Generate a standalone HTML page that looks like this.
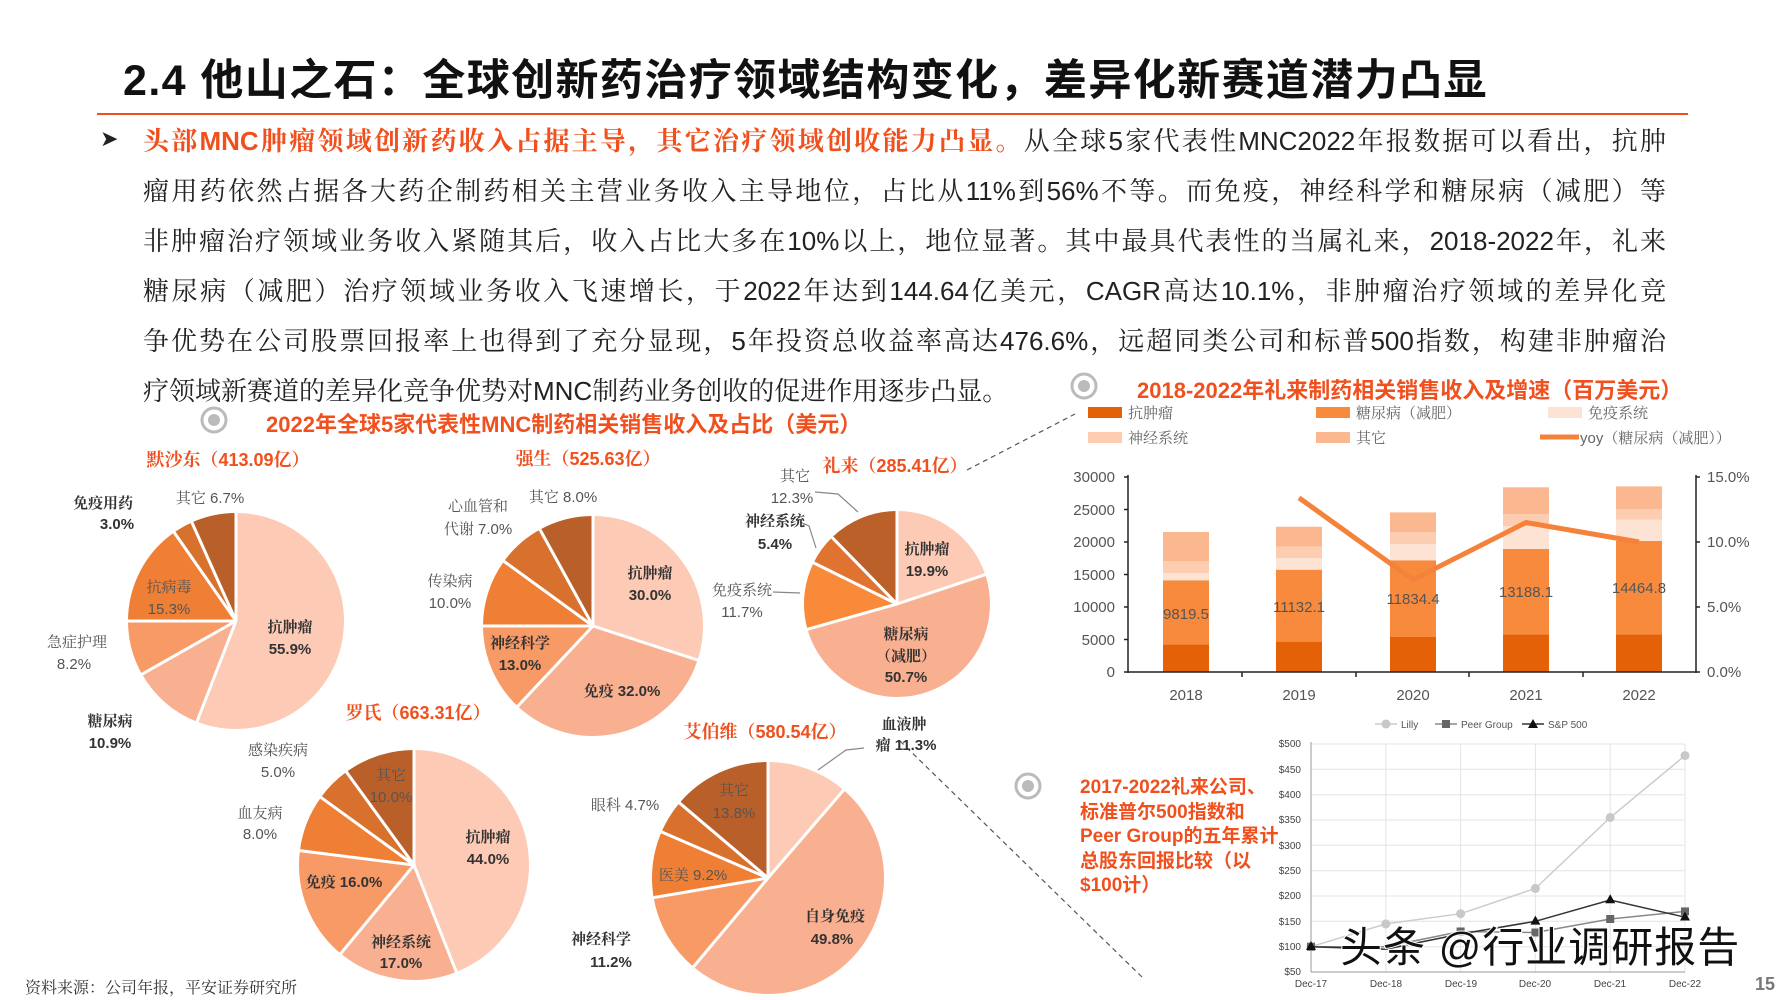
<!DOCTYPE html>
<html><head><meta charset="utf-8"><style>
body{margin:0;width:1778px;height:1000px;background:#fff;position:relative;overflow:hidden;font-family:"Liberation Sans","Noto Sans CJK SC",sans-serif}
.t{position:absolute;left:123px;top:46px;font-size:43px;font-weight:bold;letter-spacing:1.4px;color:#111;white-space:nowrap}
.ln{position:absolute;left:143px;width:1523px;font-size:26px;font-family:"Liberation Sans","Noto Serif CJK SC",serif;color:#222;text-align:justify;text-align-last:justify;white-space:nowrap;line-height:30px}
.o{color:#F0501E;font-weight:bold}
svg{position:absolute;left:0;top:0}
</style></head><body>
<div class="t">2.4 他山之石：全球创新药治疗领域结构变化，差异化新赛道潜力凸显</div>
<div style="position:absolute;left:97px;top:113px;width:1591px;height:2px;background:#F0501E"></div>
<div style="position:absolute;left:100px;top:126px;font-size:22px;color:#222">➤</div>
<div class="ln" style="top:126px"><span class="o">头部MNC肿瘤领域创新药收入占据主导，其它治疗领域创收能力凸显。</span>从全球5家代表性MNC2022年报数据可以看出，抗肿</div>
<div class="ln" style="top:176px">瘤用药依然占据各大药企制药相关主营业务收入主导地位，占比从11%到56%不等。而免疫，神经科学和糖尿病（减肥）等</div>
<div class="ln" style="top:226px">非肿瘤治疗领域业务收入紧随其后，收入占比大多在10%以上，地位显著。其中最具代表性的当属礼来，2018-2022年，礼来</div>
<div class="ln" style="top:276px">糖尿病（减肥）治疗领域业务收入飞速增长，于2022年达到144.64亿美元，CAGR高达10.1%，非肿瘤治疗领域的差异化竞</div>
<div class="ln" style="top:326px">争优势在公司股票回报率上也得到了充分显现，5年投资总收益率高达476.6%，远超同类公司和标普500指数，构建非肿瘤治</div>
<div class="ln" style="top:376px;text-align-last:left;width:auto">疗领域新赛道的差异化竞争优势对MNC制药业务创收的促进作用逐步凸显。</div>

<svg width="1778" height="1000" font-family="Liberation Sans, Noto Serif CJK SC, serif">
<defs>
<g id="ic"><circle r="12" fill="none" stroke="#bbb" stroke-width="3"/><circle r="6" fill="#bbb"/></g>
</defs>
<use href="#ic" x="214" y="420"/><use href="#ic" x="1084" y="386"/><use href="#ic" x="1028" y="786"/>
<g font-family="Liberation Sans, Noto Sans CJK SC, sans-serif" font-weight="bold" fill="#F0501E" font-size="22">
<text x="266" y="432">2022年全球5家代表性MNC制药相关销售收入及占比（美元）</text>
<text x="1137" y="398">2018-2022年礼来制药相关销售收入及增速（百万美元）</text>
</g>
<g stroke="#555" stroke-dasharray="5,4" stroke-width="1.2" fill="none">
<line x1="967" y1="470" x2="1075" y2="414"/><line x1="900" y1="741" x2="1143" y2="978"/>
</g>

<g fill="none">
<g transform="translate(236,621) rotate(-90)">
<circle r="54" stroke-width="108" pathLength="100" stroke="#FCCAB5" stroke-dasharray="55.9 100"/>
<circle r="54" stroke-width="108" pathLength="100" stroke="#F9B090" stroke-dasharray="10.9 100" stroke-dashoffset="-55.9"/>
<circle r="54" stroke-width="108" pathLength="100" stroke="#F89A66" stroke-dasharray="8.2 100" stroke-dashoffset="-66.8"/>
<circle r="54" stroke-width="108" pathLength="100" stroke="#EE7F35" stroke-dasharray="15.3 100" stroke-dashoffset="-75"/>
<circle r="54" stroke-width="108" pathLength="100" stroke="#D8702E" stroke-dasharray="3 100" stroke-dashoffset="-90.3"/>
<circle r="54" stroke-width="108" pathLength="100" stroke="#B9602A" stroke-dasharray="6.7 100" stroke-dashoffset="-93.3"/>
</g>
<g transform="translate(236,621)" stroke="#fff" stroke-width="3">
<line y2="-109"/><line y2="-109" transform="rotate(201.2)"/><line y2="-109" transform="rotate(240.5)"/><line y2="-109" transform="rotate(270)"/><line y2="-109" transform="rotate(325.1)"/><line y2="-109" transform="rotate(335.9)"/>
</g>
<g transform="translate(593,626) rotate(-90)">
<circle r="55" stroke-width="110" pathLength="100" stroke="#FCCAB5" stroke-dasharray="30 100"/>
<circle r="55" stroke-width="110" pathLength="100" stroke="#F9B090" stroke-dasharray="32 100" stroke-dashoffset="-30"/>
<circle r="55" stroke-width="110" pathLength="100" stroke="#F89A66" stroke-dasharray="13 100" stroke-dashoffset="-62"/>
<circle r="55" stroke-width="110" pathLength="100" stroke="#EE7F35" stroke-dasharray="10 100" stroke-dashoffset="-75"/>
<circle r="55" stroke-width="110" pathLength="100" stroke="#D8702E" stroke-dasharray="7 100" stroke-dashoffset="-85"/>
<circle r="55" stroke-width="110" pathLength="100" stroke="#B9602A" stroke-dasharray="8 100" stroke-dashoffset="-92"/>
</g>
<g transform="translate(593,626)" stroke="#fff" stroke-width="3">
<line y2="-111"/><line y2="-111" transform="rotate(108)"/><line y2="-111" transform="rotate(223.2)"/><line y2="-111" transform="rotate(270)"/><line y2="-111" transform="rotate(306)"/><line y2="-111" transform="rotate(331.2)"/>
</g>
<g transform="translate(897,604) rotate(-90)">
<circle r="46.5" stroke-width="93" pathLength="100" stroke="#FCCAB5" stroke-dasharray="19.9 100"/>
<circle r="46.5" stroke-width="93" pathLength="100" stroke="#F9B090" stroke-dasharray="50.7 100" stroke-dashoffset="-19.9"/>
<circle r="46.5" stroke-width="93" pathLength="100" stroke="#F98A3A" stroke-dasharray="11.7 100" stroke-dashoffset="-70.6"/>
<circle r="46.5" stroke-width="93" pathLength="100" stroke="#E07330" stroke-dasharray="5.4 100" stroke-dashoffset="-82.3"/>
<circle r="46.5" stroke-width="93" pathLength="100" stroke="#BA6028" stroke-dasharray="12.3 100" stroke-dashoffset="-87.7"/>
</g>
<g transform="translate(897,604)" stroke="#fff" stroke-width="3">
<line y2="-94"/><line y2="-94" transform="rotate(71.6)"/><line y2="-94" transform="rotate(254.2)"/><line y2="-94" transform="rotate(296.3)"/><line y2="-94" transform="rotate(315.7)"/>
</g>
<g transform="translate(414,865) rotate(-90)">
<circle r="57.5" stroke-width="115" pathLength="100" stroke="#FCCAB5" stroke-dasharray="44 100"/>
<circle r="57.5" stroke-width="115" pathLength="100" stroke="#F9B090" stroke-dasharray="17 100" stroke-dashoffset="-44"/>
<circle r="57.5" stroke-width="115" pathLength="100" stroke="#F89A66" stroke-dasharray="16 100" stroke-dashoffset="-61"/>
<circle r="57.5" stroke-width="115" pathLength="100" stroke="#EE7F35" stroke-dasharray="8 100" stroke-dashoffset="-77"/>
<circle r="57.5" stroke-width="115" pathLength="100" stroke="#D8702E" stroke-dasharray="5 100" stroke-dashoffset="-85"/>
<circle r="57.5" stroke-width="115" pathLength="100" stroke="#B9602A" stroke-dasharray="10 100" stroke-dashoffset="-90"/>
</g>
<g transform="translate(414,865)" stroke="#fff" stroke-width="3">
<line y2="-116"/><line y2="-116" transform="rotate(158.4)"/><line y2="-116" transform="rotate(219.6)"/><line y2="-116" transform="rotate(277.2)"/><line y2="-116" transform="rotate(306)"/><line y2="-116" transform="rotate(324)"/>
</g>
<g transform="translate(768,878) rotate(-90)">
<circle r="58" stroke-width="116" pathLength="100" stroke="#FCCAB5" stroke-dasharray="11.3 100"/>
<circle r="58" stroke-width="116" pathLength="100" stroke="#F9B090" stroke-dasharray="49.8 100" stroke-dashoffset="-11.3"/>
<circle r="58" stroke-width="116" pathLength="100" stroke="#F89A66" stroke-dasharray="11.2 100" stroke-dashoffset="-61.1"/>
<circle r="58" stroke-width="116" pathLength="100" stroke="#EE7F35" stroke-dasharray="9.2 100" stroke-dashoffset="-72.3"/>
<circle r="58" stroke-width="116" pathLength="100" stroke="#D8702E" stroke-dasharray="4.7 100" stroke-dashoffset="-81.5"/>
<circle r="58" stroke-width="116" pathLength="100" stroke="#B9602A" stroke-dasharray="13.8 100" stroke-dashoffset="-86.2"/>
</g>
<g transform="translate(768,878)" stroke="#fff" stroke-width="3">
<line y2="-117"/><line y2="-117" transform="rotate(40.7)"/><line y2="-117" transform="rotate(220)"/><line y2="-117" transform="rotate(260.3)"/><line y2="-117" transform="rotate(293.4)"/><line y2="-117" transform="rotate(310.3)"/>
</g>
</g>
<g stroke="#888" stroke-width="1.2" fill="none">
<polyline points="815,492 838,494 858,512"/><polyline points="800,522 809,526 816,548"/><polyline points="773,592 800,593"/>
<polyline points="864,748 846,750 818,770"/>
</g>
<g fill="#F0501E" font-size="18" font-weight="bold" text-anchor="middle">
<text x="228" y="466">默沙东（413.09亿）</text><text x="588" y="465">强生（525.63亿）</text>
<text x="895" y="472">礼来（285.41亿）</text><text x="418" y="719">罗氏（663.31亿）</text><text x="765" y="738">艾伯维（580.54亿）</text>
</g>
<g font-size="15" fill="#555" text-anchor="middle">
<text x="210" y="503">其它 6.7%</text>
<text x="103" y="508" font-weight="bold" fill="#333">免疫用药</text><text x="117" y="529" font-weight="bold" fill="#333">3.0%</text>
<text x="169" y="592">抗病毒</text><text x="169" y="614">15.3%</text>
<text x="77" y="647">急症护理</text><text x="74" y="669">8.2%</text>
<text x="110" y="726" font-weight="bold" fill="#333">糖尿病</text><text x="110" y="748" font-weight="bold" fill="#333">10.9%</text>
<text x="290" y="632" font-weight="bold" fill="#333">抗肿瘤</text><text x="290" y="654" font-weight="bold" fill="#333">55.9%</text>
<text x="563" y="502">其它 8.0%</text>
<text x="478" y="511">心血管和</text><text x="478" y="534">代谢 7.0%</text>
<text x="450" y="586">传染病</text><text x="450" y="608">10.0%</text>
<text x="650" y="578" font-weight="bold" fill="#333">抗肿瘤</text><text x="650" y="600" font-weight="bold" fill="#333">30.0%</text>
<text x="520" y="648" font-weight="bold" fill="#333">神经科学</text><text x="520" y="670" font-weight="bold" fill="#333">13.0%</text>
<text x="622" y="696" font-weight="bold" fill="#333">免疫 32.0%</text>
<text x="795" y="481">其它</text><text x="792" y="503">12.3%</text>
<text x="775" y="526" font-weight="bold" fill="#333">神经系统</text><text x="775" y="549" font-weight="bold" fill="#333">5.4%</text>
<text x="742" y="595">免疫系统</text><text x="742" y="617">11.7%</text>
<text x="927" y="554" font-weight="bold" fill="#333">抗肿瘤</text><text x="927" y="576" font-weight="bold" fill="#333">19.9%</text>
<text x="906" y="639" font-weight="bold" fill="#333">糖尿病</text><text x="906" y="661" font-weight="bold" fill="#333">（减肥）</text><text x="906" y="682" font-weight="bold" fill="#333">50.7%</text>
<text x="278" y="755">感染疾病</text><text x="278" y="777">5.0%</text>
<text x="391" y="780">其它</text><text x="391" y="802">10.0%</text>
<text x="260" y="818">血友病</text><text x="260" y="839">8.0%</text>
<text x="344" y="887" font-weight="bold" fill="#333">免疫 16.0%</text>
<text x="488" y="842" font-weight="bold" fill="#333">抗肿瘤</text><text x="488" y="864" font-weight="bold" fill="#333">44.0%</text>
<text x="401" y="947" font-weight="bold" fill="#333">神经系统</text><text x="401" y="968" font-weight="bold" fill="#333">17.0%</text>
<text x="904" y="729" font-weight="bold" fill="#333">血液肿</text><text x="906" y="750" font-weight="bold" fill="#333">瘤 11.3%</text>
<text x="625" y="810">眼科 4.7%</text>
<text x="734" y="795">其它</text><text x="734" y="818">13.8%</text>
<text x="693" y="880">医美 9.2%</text>
<text x="601" y="944" font-weight="bold" fill="#333">神经科学</text><text x="611" y="967" font-weight="bold" fill="#333">11.2%</text>
<text x="835" y="921" font-weight="bold" fill="#333">自身免疫</text><text x="832" y="944" font-weight="bold" fill="#333">49.8%</text>
</g>
<text x="25" y="993" font-size="16" fill="#333">资料来源：公司年报，平安证券研究所</text>

<g transform="translate(-6,-3)">
<g font-size="15" fill="#666">
<rect x="1094" y="410" width="34" height="11" fill="#E46108"/><text x="1134" y="421">抗肿瘤</text>
<rect x="1322" y="410" width="34" height="11" fill="#F78A3C"/><text x="1362" y="421">糖尿病（减肥）</text>
<rect x="1554" y="410" width="34" height="11" fill="#FDE3D3"/><text x="1594" y="421">免疫系统</text>
<rect x="1094" y="435" width="34" height="11" fill="#FCCDB0"/><text x="1134" y="446">神经系统</text>
<rect x="1322" y="435" width="34" height="11" fill="#FBB890"/><text x="1362" y="446">其它</text>
<line x1="1546" y1="440" x2="1585" y2="440" stroke="#F5823A" stroke-width="5"/><text x="1586" y="446">yoy（糖尿病（减肥））</text>
</g>
<g>
<rect x="1169" y="647.3" width="46" height="27.7" fill="#E46108"/><rect x="1169" y="583.3" width="46" height="64" fill="#F78A3C"/><rect x="1169" y="576" width="46" height="7.3" fill="#FDE3D3"/><rect x="1169" y="564.3" width="46" height="11.7" fill="#FCCDB0"/><rect x="1169" y="535" width="46" height="29.3" fill="#FBB890"/>
<rect x="1282" y="644.6" width="46" height="30.4" fill="#E46108"/><rect x="1282" y="572.7" width="46" height="71.9" fill="#F78A3C"/><rect x="1282" y="561.3" width="46" height="11.4" fill="#FDE3D3"/><rect x="1282" y="549.7" width="46" height="11.6" fill="#FCCDB0"/><rect x="1282" y="529.7" width="46" height="20" fill="#FBB890"/>
<rect x="1396" y="640" width="46" height="35" fill="#E46108"/><rect x="1396" y="563.3" width="46" height="76.7" fill="#F78A3C"/><rect x="1396" y="547.3" width="46" height="16" fill="#FDE3D3"/><rect x="1396" y="535" width="46" height="12.3" fill="#FCCDB0"/><rect x="1396" y="515.4" width="46" height="19.6" fill="#FBB890"/>
<rect x="1509" y="637.3" width="46" height="37.7" fill="#E46108"/><rect x="1509" y="552" width="46" height="85.3" fill="#F78A3C"/><rect x="1509" y="529.3" width="46" height="22.7" fill="#FDE3D3"/><rect x="1509" y="517.3" width="46" height="12" fill="#FCCDB0"/><rect x="1509" y="490.3" width="46" height="27" fill="#FBB890"/>
<rect x="1622" y="637.3" width="46" height="37.7" fill="#E46108"/><rect x="1622" y="544" width="46" height="93.3" fill="#F78A3C"/><rect x="1622" y="522.6" width="46" height="21.4" fill="#FDE3D3"/><rect x="1622" y="512" width="46" height="10.6" fill="#FCCDB0"/><rect x="1622" y="489.4" width="46" height="22.6" fill="#FBB890"/>
</g>
<g font-size="15" fill="#555" text-anchor="middle">
<text x="1192" y="622">9819.5</text><text x="1305" y="615">11132.1</text><text x="1419" y="607">11834.4</text><text x="1532" y="600">13188.1</text><text x="1645" y="596">14464.8</text>
</g>
<polyline points="1305,500.8 1419,582.7 1532,525.5 1645,545" fill="none" stroke="#F5823A" stroke-width="5"/>
<g stroke="#222" stroke-width="1.5">
<line x1="1134" y1="478" x2="1134" y2="676"/><line x1="1702" y1="478" x2="1702" y2="676"/><line x1="1130" y1="675" x2="1706" y2="675"/>
<line x1="1130" y1="480" x2="1134" y2="480"/><line x1="1130" y1="512.5" x2="1134" y2="512.5"/><line x1="1130" y1="545" x2="1134" y2="545"/><line x1="1130" y1="577.5" x2="1134" y2="577.5"/><line x1="1130" y1="610" x2="1134" y2="610"/><line x1="1130" y1="642.5" x2="1134" y2="642.5"/>
<line x1="1702" y1="480" x2="1706" y2="480"/><line x1="1702" y1="545" x2="1706" y2="545"/><line x1="1702" y1="610" x2="1706" y2="610"/>
<line x1="1248" y1="675" x2="1248" y2="680"/><line x1="1362" y1="675" x2="1362" y2="680"/><line x1="1475" y1="675" x2="1475" y2="680"/><line x1="1589" y1="675" x2="1589" y2="680"/>
</g>
<g font-size="15" fill="#555" text-anchor="end">
<text x="1121" y="485">30000</text><text x="1121" y="518">25000</text><text x="1121" y="550">20000</text><text x="1121" y="583">15000</text><text x="1121" y="615">10000</text><text x="1121" y="648">5000</text><text x="1121" y="680">0</text>
</g>
<g font-size="15" fill="#555">
<text x="1713" y="485">15.0%</text><text x="1713" y="550">10.0%</text><text x="1713" y="615">5.0%</text><text x="1713" y="680">0.0%</text>
</g>
<g font-size="15" fill="#555" text-anchor="middle">
<text x="1192" y="703">2018</text><text x="1305" y="703">2019</text><text x="1419" y="703">2020</text><text x="1532" y="703">2021</text><text x="1645" y="703">2022</text>
</g>
</g>

<g fill="#F0501E" font-size="19" font-weight="bold" font-family="Liberation Sans, Noto Sans CJK SC, sans-serif">
<text x="1080" y="793">2017-2022礼来公司、</text><text x="1080" y="818">标准普尔500指数和</text><text x="1080" y="842">Peer Group的五年累计</text><text x="1080" y="867">总股东回报比较（以</text><text x="1080" y="891">$100计）</text>
</g>
<g transform="translate(-8,-3)">
<g stroke="#e4e4e4" stroke-width="1">
<line x1="1319" y1="747" x2="1693" y2="747"/><line x1="1319" y1="772.3" x2="1693" y2="772.3"/><line x1="1319" y1="797.7" x2="1693" y2="797.7"/><line x1="1319" y1="823" x2="1693" y2="823"/><line x1="1319" y1="848.3" x2="1693" y2="848.3"/><line x1="1319" y1="873.7" x2="1693" y2="873.7"/><line x1="1319" y1="899" x2="1693" y2="899"/><line x1="1319" y1="924.3" x2="1693" y2="924.3"/><line x1="1319" y1="949.7" x2="1693" y2="949.7"/>
<line x1="1393.8" y1="747" x2="1393.8" y2="975"/><line x1="1468.6" y1="747" x2="1468.6" y2="975"/><line x1="1543.4" y1="747" x2="1543.4" y2="975"/><line x1="1618.2" y1="747" x2="1618.2" y2="975"/><line x1="1693" y1="747" x2="1693" y2="975"/>
</g>
<line x1="1319" y1="745" x2="1319" y2="975" stroke="#999"/><line x1="1319" y1="975" x2="1693" y2="975" stroke="#999"/>
<g font-size="10" fill="#444" text-anchor="end">
<text x="1309" y="750">$500</text><text x="1309" y="776">$450</text><text x="1309" y="801">$400</text><text x="1309" y="826">$350</text><text x="1309" y="852">$300</text><text x="1309" y="877">$250</text><text x="1309" y="902">$200</text><text x="1309" y="928">$150</text><text x="1309" y="953">$100</text><text x="1309" y="978">$50</text>
</g>
<g font-size="10" fill="#444" text-anchor="middle">
<text x="1319" y="990">Dec-17</text><text x="1394" y="990">Dec-18</text><text x="1469" y="990">Dec-19</text><text x="1543" y="990">Dec-20</text><text x="1618" y="990">Dec-21</text><text x="1693" y="990">Dec-22</text>
</g>
<polyline points="1319,949.7 1393.8,926.9 1468.6,916.7 1543.4,891.4 1618.2,820.5 1693,758.6" fill="none" stroke="#ccc" stroke-width="1.5"/>
<g fill="#c8c8c8"><circle cx="1319" cy="949.7" r="4.5"/><circle cx="1393.8" cy="926.9" r="4.5"/><circle cx="1468.6" cy="916.7" r="4.5"/><circle cx="1543.4" cy="891.4" r="4.5"/><circle cx="1618.2" cy="820.5" r="4.5"/><circle cx="1693" cy="758.6" r="4.5"/></g>
<polyline points="1319,949.7 1393.8,949.7 1468.6,934.5 1543.4,935.5 1618.2,922 1693,914.4" fill="none" stroke="#888" stroke-width="1.5"/>
<g fill="#666"><rect x="1315" y="945.7" width="8" height="8"/><rect x="1464.6" y="930.5" width="8" height="8"/><rect x="1539.4" y="931.5" width="8" height="8"/><rect x="1614.2" y="918" width="8" height="8"/><rect x="1689" y="910.4" width="8" height="8"/></g>
<polyline points="1319,949.7 1393.8,952.2 1468.6,937 1543.4,924.3 1618.2,903 1693,920.2" fill="none" stroke="#333" stroke-width="1.5"/>
<g fill="#111"><path d="M1319,944 l5,9 h-10z"/><path d="M1543.4,918.6 l5,9 h-10z"/><path d="M1618.2,897.3 l5,9 h-10z"/><path d="M1693,914.5 l5,9 h-10z"/></g>
<g font-size="10" fill="#555">
<line x1="1383" y1="727" x2="1405" y2="727" stroke="#ccc" stroke-width="1.5"/><circle cx="1394" cy="727" r="4.5" fill="#c8c8c8"/><text x="1409" y="731">Lilly</text>
<line x1="1443" y1="727" x2="1465" y2="727" stroke="#888" stroke-width="1.5"/><rect x="1450" y="723" width="8" height="8" fill="#666"/><text x="1469" y="731">Peer Group</text>
<line x1="1530" y1="727" x2="1552" y2="727" stroke="#333" stroke-width="1.5"/><path d="M1541,722 l5,9 h-10z" fill="#111"/><text x="1556" y="731">S&amp;P 500</text>
</g>
</g>
<text x="1340" y="962" font-size="42" font-family="Liberation Sans, Noto Sans CJK SC, sans-serif" fill="#111" stroke="#fff" stroke-width="2" paint-order="stroke" letter-spacing="1">头条 @行业调研报告</text>
<text x="1765" y="990" font-size="18" font-weight="bold" fill="#777" text-anchor="middle">15</text>
</svg>
</body></html>
